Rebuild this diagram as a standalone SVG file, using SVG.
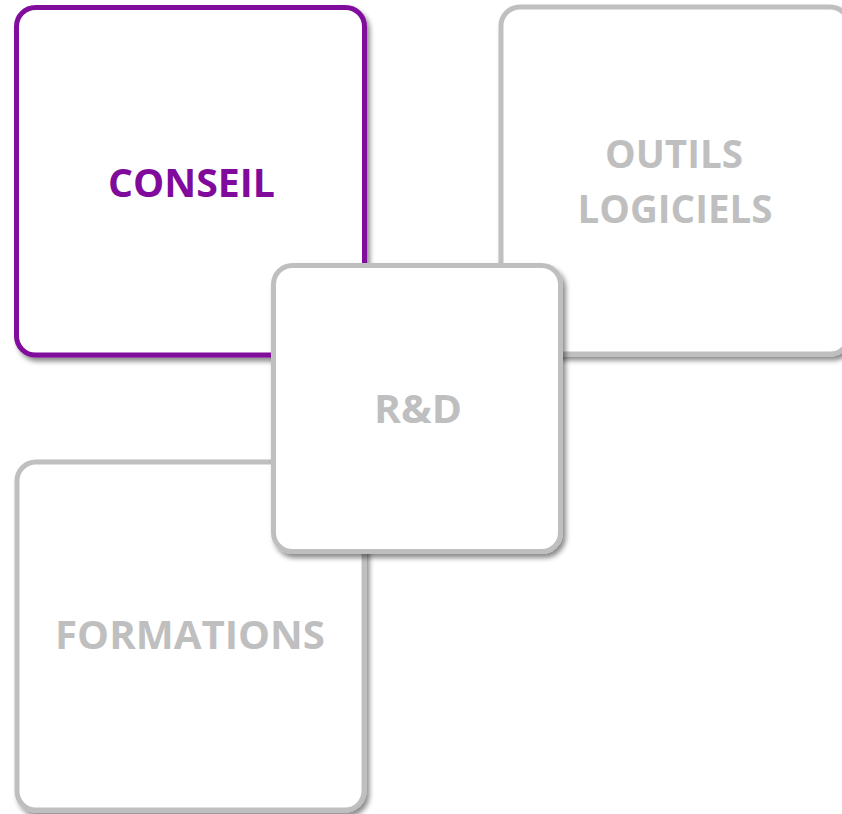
<svg xmlns="http://www.w3.org/2000/svg" width="842" height="814" viewBox="0 0 842 814">
  <defs>
    <filter id="sh" x="-10%" y="-10%" width="130%" height="130%">
      <feDropShadow dx="3" dy="4" stdDeviation="2.5" flood-color="#000" flood-opacity="0.45"/>
    </filter>
  </defs>
  <style>
    .box { fill: #ffffff; stroke-width: 5; filter: url(#sh); }
    .gray { stroke: #BFBFBF; }
    .purple { stroke: #800A9C; }
    .lbl { font-family: "Open Sans", "Liberation Sans", sans-serif; font-weight: bold; font-size: 39px; text-anchor: middle; }
    .lg { fill: #BFBFBF; }
    .lp { fill: #800A9C; }
  </style>
  <rect width="842" height="814" fill="#ffffff"/>
  <g id="connectors"></g>
  <g id="conseil">
    <rect class="box purple" x="16.5" y="7.5" width="348" height="347.5" rx="19"/>
    <text class="lbl lp" x="191.5" y="197" textLength="167" lengthAdjust="spacingAndGlyphs">CONSEIL</text>
  </g>
  <g id="outils">
    <rect class="box gray" x="501" y="7" width="348" height="347" rx="19"/>
    <text class="lbl lg" x="674" y="168" textLength="138" lengthAdjust="spacingAndGlyphs">OUTILS</text>
    <text class="lbl lg" x="675" y="223" textLength="195" lengthAdjust="spacingAndGlyphs">LOGICIELS</text>
  </g>
  <g id="formations">
    <rect class="box gray" x="17" y="462" width="347" height="348" rx="19"/>
    <text class="lbl lg" x="190" y="649" textLength="270" lengthAdjust="spacingAndGlyphs">FORMATIONS</text>
  </g>
  <g id="rd">
    <rect class="box gray" x="273.5" y="265.5" width="287" height="286" rx="19"/>
    <text class="lbl lg" x="418" y="423" textLength="88" lengthAdjust="spacingAndGlyphs">R&amp;D</text>
  </g>
</svg>
